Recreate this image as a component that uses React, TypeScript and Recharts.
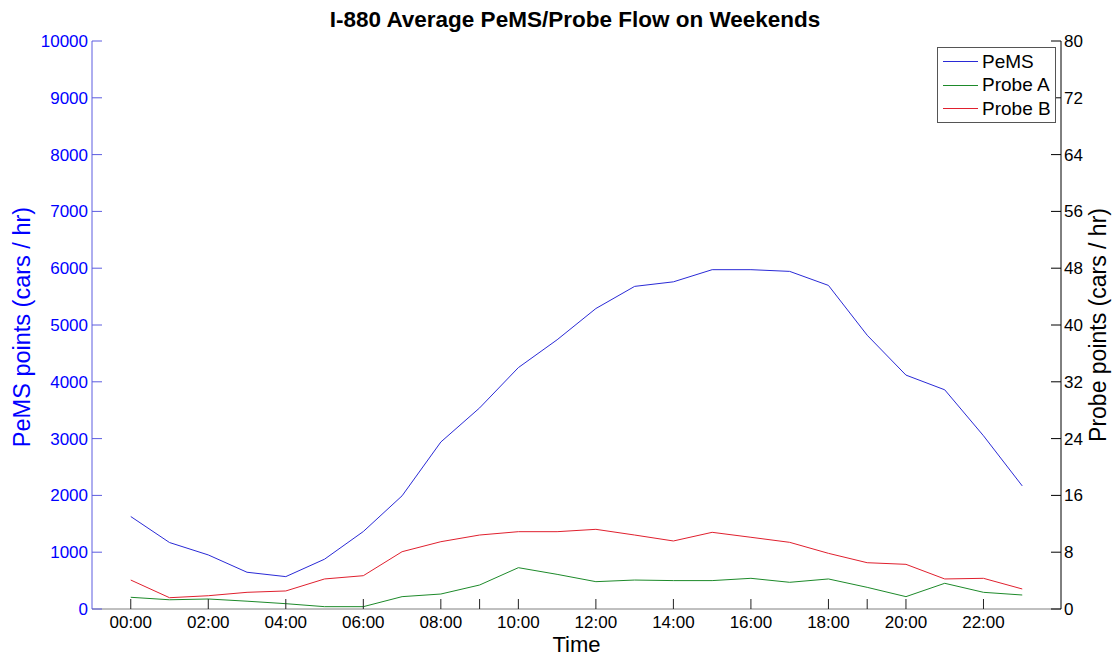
import React from "react";
import { LineChart, Line, XAxis, YAxis, Legend } from "recharts";

const hours = [0, 1, 2, 3, 4, 5, 6, 7, 8, 9, 10, 11, 12, 13, 14, 15, 16, 17, 18, 19, 20, 21, 22, 23];
const pems = [
	1628, 1170, 952, 647, 570, 877, 1364, 1993, 2940, 3540, 4250, 4740, 5290, 5680, 5760, 5974, 5974, 5944, 5697,
	4820, 4118, 3859, 3050, 2167,
];
const probeA = [
	1.65, 1.3, 1.41, 1.1, 0.75, 0.33, 0.33, 1.74, 2.11, 3.38, 5.82, 4.88, 3.85, 4.08, 4.0, 4.0, 4.32, 3.76, 4.23,
	3.05, 1.74, 3.62, 2.35, 1.97,
];
const probeB = [
	4.08, 1.59, 1.87, 2.35, 2.54, 4.23, 4.69, 8.07, 9.48, 10.42, 10.89, 10.89, 11.22, 10.42, 9.58, 10.8, 10.1, 9.39,
	7.84, 6.52, 6.29, 4.23, 4.32, 2.82,
];

const bottomTicks = [0, 2, 4, 6, 8, 9, 10, 12, 14, 16, 18, 19, 20, 22];
const topTicks = [0, 2, 4, 6, 8, 10, 12, 14, 16, 18, 20, 22];
const pemsTicks = [0, 1000, 2000, 3000, 4000, 5000, 6000, 7000, 8000, 9000, 10000];
const probeTicks = [0, 8, 16, 24, 32, 40, 48, 56, 64, 72, 80];

const FONT = "'Liberation Sans', Arial, Helvetica, sans-serif";
const BLUE = "#0000ff";
const COLORS = { pems: "#2a2ad6", probeA: "#1d8a2a", probeB: "#e0202e" };

const fmtHour = (h: number) => (h % 2 === 0 ? `${String(h).padStart(2, "0")}:00` : "");

const LegendBox = () => {
	const items = [
		{ name: "PeMS", color: COLORS.pems },
		{ name: "Probe A", color: COLORS.probeA },
		{ name: "Probe B", color: COLORS.probeB },
	];
	return (
		<div
			style={{
				width: 117,
				height: 74,
				border: "1px solid #555",
				background: "#fff",
				fontFamily: FONT,
				fontSize: 19,
				color: "#000",
				boxSizing: "content-box",
			}}
		>
			{items.map((it, i) => (
				<div key={it.name} style={{ position: "absolute", top: 3 + i * 23.5, left: 6, height: 23, display: "flex", alignItems: "center" }}>
					<span style={{ display: "inline-block", width: 35, height: 1, background: it.color, marginRight: 4 }} />
					<span>{it.name}</span>
				</div>
			))}
		</div>
	);
};

export default function App() {
	const data = hours.map((h, i) => ({ h, pems: pems[i], probeA: probeA[i], probeB: probeB[i] }));

	return (
		<div style={{ position: "absolute", left: 0, top: 0, width: 1114, height: 656, background: "#fff" }}>
			<div
				style={{
					position: "absolute",
					left: 0,
					width: 1150,
					top: 7,
					textAlign: "center",
					fontFamily: FONT,
					fontWeight: "bold",
					fontSize: 22.5,
					color: "#000",
				}}
			>
				I-880 Average PeMS/Probe Flow on Weekends
			</div>
			<LineChart width={1114} height={656} data={data} margin={{ top: 41, right: 0, bottom: 0, left: 12 }}>
				<XAxis
					xAxisId="b"
					dataKey="h"
					type="number"
					domain={[-1, 24]}
					ticks={bottomTicks}
					tickFormatter={fmtHour}
					interval={0}
					tickSize={-10}
					tickMargin={17}
					height={47}
					axisLine={{ stroke: "#808080" }}
					tickLine={{ stroke: "#222" }}
					tick={{ fill: "#000", fontSize: 17, fontFamily: FONT }}
					label={{ value: "Time", position: "insideBottom", offset: 4, fill: "#000", fontSize: 22, fontFamily: FONT }}
				/>
				<XAxis
					xAxisId="t"
					orientation="top"
					dataKey="h"
					type="number"
					domain={[-1, 24]}
					ticks={topTicks}
					tickFormatter={() => ""}
					interval={0}
					tickSize={-10}
					height={0}
					axisLine={{ stroke: "#000" }}
					tickLine={{ stroke: "#333" }}
				/>
				<YAxis
					yAxisId="l"
					domain={[0, 10000]}
					ticks={pemsTicks}
					interval={0}
					width={80}
					tickSize={-10}
					tickMargin={14}
					axisLine={{ stroke: "#5c5ce0" }}
					tickLine={{ stroke: "#5c5ce0" }}
					tick={{ fill: BLUE, fontSize: 17, fontFamily: FONT }}
					label={{
						content: (p: any) => {
							const vb = p.viewBox;
							return (
								<text
									transform={`translate(22, ${vb.y + vb.height / 2 + 2}) rotate(-90)`}
									textAnchor="middle"
									dominantBaseline="central"
									fill={BLUE}
									fontSize={23.5}
									fontFamily={FONT}
								>
									PeMS points (cars / hr)
								</text>
							);
						},
					}}
				/>
				<YAxis
					yAxisId="r"
					orientation="right"
					domain={[0, 80]}
					ticks={probeTicks}
					interval={0}
					width={53}
					tickSize={-10}
					tickMargin={13}
					axisLine={{ stroke: "#000" }}
					tickLine={{ stroke: "#000" }}
					tick={{ fill: "#000", fontSize: 17, fontFamily: FONT }}
					label={{
						content: (p: any) => {
							const vb = p.viewBox;
							return (
								<text
									transform={`translate(1098, ${vb.y + vb.height / 2}) rotate(-90)`}
									textAnchor="middle"
									dominantBaseline="central"
									fill="#000"
									fontSize={23}
									fontFamily={FONT}
								>
									Probe points (cars / hr)
								</text>
							);
						},
					}}
				/>
				<Legend
					layout="vertical"
					align="center"
					verticalAlign="middle"
					content={() => <LegendBox />}
					wrapperStyle={{ left: 937, top: 47, width: 119, height: 76 }}
				/>
				<Line
					xAxisId="b"
					yAxisId="l"
					dataKey="pems"
					name="PeMS"
					stroke={COLORS.pems}
					strokeWidth={1}
					dot={false}
					type="linear"
					isAnimationActive={false}
				/>
				<Line
					xAxisId="b"
					yAxisId="r"
					dataKey="probeA"
					name="Probe A"
					stroke={COLORS.probeA}
					strokeWidth={1}
					dot={false}
					type="linear"
					isAnimationActive={false}
				/>
				<Line
					xAxisId="b"
					yAxisId="r"
					dataKey="probeB"
					name="Probe B"
					stroke={COLORS.probeB}
					strokeWidth={1}
					dot={false}
					type="linear"
					isAnimationActive={false}
				/>
			</LineChart>
		</div>
	);
}
